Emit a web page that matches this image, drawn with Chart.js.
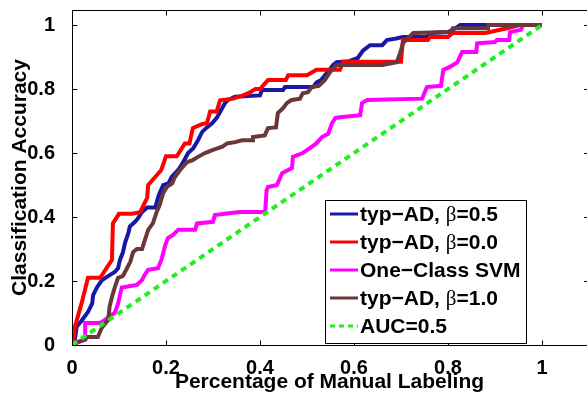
<!DOCTYPE html>
<html>
<head>
<meta charset="utf-8">
<script src="https://cdn.jsdelivr.net/npm/chart.js@4"></script>
<style>
  html, body { margin: 0; background: #fff; }
  #wrap { width: 587px; height: 393px; }
</style>
</head>
<body>
<div id="wrap"><canvas id="chart"></canvas></div>
<script>
const xTicks      = [0, 0.2, 0.4, 0.6, 0.8, 1];
const xTickLabels = ['0', '0.2', '0.4', '0.6', '0.8', '1'];
const yTicks      = [0, 0.2, 0.4, 0.6, 0.8, 1];
const yTickLabels = ['0', '0.2', '0.4', '0.6', '0.8', '1'];

const seriesLabels = ['typ\u2212AD, \u03b2=0.5', 'typ\u2212AD, \u03b2=0.0', 'One\u2212Class SVM', 'typ\u2212AD, \u03b2=1.0', 'AUC=0.5'];

// typ-AD, beta=0.5
const beta05X = [0, 0.006, 0.010, 0.020, 0.034, 0.043, 0.045, 0.053, 0.064, 0.081, 0.091, 0.098, 0.102, 0.108, 0.113, 0.120, 0.123, 0.134, 0.140, 0.149, 0.160, 0.177, 0.185, 0.194, 0.205, 0.212, 0.226, 0.236, 0.247, 0.258, 0.268, 0.277, 0.287, 0.298, 0.308, 0.315, 0.325, 0.332, 0.347, 0.400, 0.404, 0.449, 0.453, 0.513, 0.520, 0.530, 0.538, 0.548, 0.555, 0.563, 0.590, 0.608, 0.619, 0.634, 0.660, 0.670, 0.690, 0.704, 0.755, 0.762, 0.800, 0.810, 0.826, 1.0];
const beta05Y = [0, 0.016, 0.057, 0.075, 0.103, 0.130, 0.156, 0.180, 0.203, 0.219, 0.228, 0.240, 0.266, 0.288, 0.320, 0.350, 0.370, 0.385, 0.395, 0.416, 0.430, 0.430, 0.470, 0.500, 0.505, 0.525, 0.547, 0.570, 0.600, 0.615, 0.640, 0.666, 0.680, 0.693, 0.710, 0.728, 0.755, 0.766, 0.776, 0.780, 0.797, 0.797, 0.806, 0.806, 0.820, 0.828, 0.843, 0.860, 0.875, 0.884, 0.887, 0.897, 0.920, 0.937, 0.937, 0.953, 0.958, 0.963, 0.963, 0.975, 0.978, 0.985, 1.0, 1.0];

// typ-AD, beta=0.0
const beta00X = [0, 0.002, 0.006, 0.021, 0.034, 0.060, 0.085, 0.087, 0.100, 0.128, 0.145, 0.160, 0.162, 0.177, 0.190, 0.200, 0.223, 0.240, 0.250, 0.257, 0.276, 0.287, 0.294, 0.308, 0.315, 0.343, 0.364, 0.379, 0.390, 0.400, 0.417, 0.455, 0.460, 0.500, 0.520, 0.570, 0.577, 0.700, 0.704, 0.757, 0.762, 0.800, 0.810, 0.880, 0.925, 0.953, 1.0];
const beta00Y = [0, 0.006, 0.056, 0.134, 0.210, 0.210, 0.266, 0.380, 0.410, 0.410, 0.415, 0.460, 0.500, 0.525, 0.547, 0.590, 0.590, 0.630, 0.630, 0.678, 0.690, 0.693, 0.730, 0.730, 0.765, 0.770, 0.780, 0.790, 0.800, 0.800, 0.828, 0.828, 0.843, 0.843, 0.860, 0.860, 0.885, 0.885, 0.953, 0.953, 0.963, 0.963, 0.975, 0.975, 0.990, 1.0, 1.0];

// One-Class SVM
const svmX = [0, 0.002, 0.028, 0.028, 0.060, 0.070, 0.080, 0.091, 0.098, 0.106, 0.138, 0.149, 0.155, 0.162, 0.183, 0.191, 0.198, 0.204, 0.215, 0.226, 0.262, 0.266, 0.300, 0.304, 0.325, 0.357, 0.411, 0.414, 0.417, 0.436, 0.447, 0.468, 0.470, 0.491, 0.506, 0.520, 0.532, 0.545, 0.553, 0.560, 0.570, 0.613, 0.617, 0.628, 0.745, 0.755, 0.785, 0.790, 0.805, 0.820, 0.830, 0.860, 0.862, 0.900, 0.904, 0.930, 0.932, 0.955, 0.960, 1.0];
const svmY = [0, 0.006, 0.016, 0.069, 0.069, 0.078, 0.090, 0.100, 0.130, 0.180, 0.188, 0.203, 0.220, 0.235, 0.240, 0.270, 0.310, 0.334, 0.344, 0.360, 0.360, 0.380, 0.385, 0.406, 0.410, 0.416, 0.416, 0.484, 0.494, 0.500, 0.537, 0.553, 0.588, 0.600, 0.615, 0.630, 0.650, 0.660, 0.693, 0.709, 0.712, 0.718, 0.756, 0.766, 0.770, 0.806, 0.810, 0.860, 0.870, 0.884, 0.916, 0.916, 0.943, 0.947, 0.953, 0.953, 0.978, 0.985, 1.0, 1.0];

// typ-AD, beta=1.0
const beta10X = [0, 0.024, 0.034, 0.055, 0.063, 0.077, 0.080, 0.085, 0.091, 0.098, 0.108, 0.117, 0.124, 0.130, 0.138, 0.149, 0.155, 0.162, 0.172, 0.180, 0.187, 0.194, 0.202, 0.213, 0.219, 0.230, 0.245, 0.257, 0.268, 0.283, 0.300, 0.320, 0.330, 0.347, 0.362, 0.383, 0.385, 0.410, 0.417, 0.434, 0.438, 0.449, 0.457, 0.466, 0.485, 0.491, 0.502, 0.510, 0.525, 0.538, 0.549, 0.563, 0.660, 0.691, 0.698, 0.704, 0.715, 0.726, 0.806, 0.810, 0.883, 0.885, 1.0];
const beta10Y = [0, 0.016, 0.025, 0.025, 0.053, 0.078, 0.120, 0.150, 0.180, 0.210, 0.215, 0.240, 0.260, 0.290, 0.300, 0.300, 0.328, 0.360, 0.380, 0.415, 0.440, 0.475, 0.494, 0.505, 0.525, 0.547, 0.572, 0.578, 0.588, 0.600, 0.610, 0.620, 0.630, 0.634, 0.640, 0.640, 0.650, 0.655, 0.678, 0.680, 0.725, 0.740, 0.756, 0.765, 0.770, 0.787, 0.790, 0.806, 0.810, 0.828, 0.853, 0.875, 0.875, 0.884, 0.912, 0.943, 0.960, 0.975, 0.978, 0.990, 0.990, 1.0, 1.0];

// chance line
const aucX = [0, 1];
const aucY = [0, 1];

const X_LIMIT = 1.1;   // axis box ends here, just past the right edge of the picture
const X_SHOWN = 1.0957;
const Y_LIMIT = 1.047;

const FONT = "'Liberation Sans', Arial, sans-serif";

function toPoints(xs, ys) {
  return xs.map((x, i) => ({ x, y: ys[i] }));
}

function makeSet(label, xs, ys, color, order, dash) {
  return {
    label,
    data: toPoints(xs, ys),
    borderColor: color,
    backgroundColor: color,
    borderWidth: 4,
    borderDash: dash || [],
    borderJoinStyle: 'miter',
    borderCapStyle: 'butt',
    pointRadius: 0,
    tension: 0,
    fill: false,
    order,
  };
}

// no extra room for half-height tick labels, the box is placed by the layout padding
function noLabelPadding(s) {
  s.paddingTop = 0; s.paddingBottom = 0; s.paddingLeft = 0; s.paddingRight = 0;
}

// MATLAB-style box: inward ticks on all sides, plus the boxed legend
const boxPlugin = {
  id: 'box',
  afterDatasetsDraw(chart) {
    const { ctx, chartArea: a, scales: { x, y } } = chart;
    const right = x.getPixelForValue(X_LIMIT);
    const top = a.top + 0.5, bottom = a.bottom + 0.5, left = a.left + 0.5;
    ctx.save();
    ctx.strokeStyle = '#000';
    ctx.lineWidth = 1;
    ctx.beginPath();
    ctx.moveTo(left, top);    ctx.lineTo(right, top);
    ctx.moveTo(left, top);    ctx.lineTo(left, bottom);
    ctx.lineTo(right, bottom);
    xTicks.forEach(v => {
      const px = Math.round(x.getPixelForValue(v)) + 0.5;
      ctx.moveTo(px, bottom); ctx.lineTo(px, bottom - 5);
      ctx.moveTo(px, top);    ctx.lineTo(px, top + 5);
    });
    yTicks.forEach(v => {
      const py = Math.round(y.getPixelForValue(v)) + 0.5;
      ctx.moveTo(left, py);  ctx.lineTo(left + 5, py);
      ctx.moveTo(right, py); ctx.lineTo(right - 5, py);
    });
    ctx.stroke();

    // legend
    const L = 325.5, T = 200.5, R = 526.5, B = 343.5;
    ctx.fillStyle = '#fff';
    ctx.fillRect(L, T, R - L, B - T);
    ctx.strokeRect(L, T, R - L, B - T);

    const sets = chart.data.datasets;
    sets.forEach((ds, i) => {
      const rowY = 214 + i * 28;
      ctx.save();
      ctx.strokeStyle = ds.borderColor;
      ctx.lineWidth = 3;
      ctx.setLineDash(ds.borderDash.length ? [5, 4] : []);
      ctx.beginPath();
      ctx.moveTo(330, rowY); ctx.lineTo(358, rowY);
      ctx.stroke();
      ctx.restore();

      ctx.fillStyle = '#000';
      ctx.textBaseline = 'middle';
      ctx.textAlign = 'left';
      let tx = 360;
      const parts = ds.label.split('\u03b2');
      parts.forEach((p, k) => {
        if (k > 0) {
          ctx.font = "21px 'Liberation Serif', serif";
          ctx.fillText('\u03b2', tx, rowY + 1);
          tx += ctx.measureText('\u03b2').width;
        }
        ctx.font = 'bold 21px ' + FONT;
        ctx.fillText(p, tx, rowY + 1);
        tx += ctx.measureText(p).width;
      });
    });
    ctx.restore();
  }
};

new Chart(document.getElementById('chart'), {
  type: 'line',
  data: {
    datasets: [
      makeSet(seriesLabels[0], beta05X, beta05Y, '#1818a8', 5),
      makeSet(seriesLabels[1], beta00X, beta00Y, '#ff0000', 4),
      makeSet(seriesLabels[2], svmX, svmY, '#ff00ff', 3),
      makeSet(seriesLabels[3], beta10X, beta10Y, '#6a3838', 2),
      makeSet(seriesLabels[4], aucX, aucY, '#22ee22', 1, [6, 5]),
    ],
  },
  options: {
    responsive: true,
    maintainAspectRatio: false,
    animation: false,
    layout: { padding: { top: 10, left: 0, right: 0, bottom: 0 } },
    plugins: { legend: { display: false }, tooltip: { enabled: false } },
    scales: {
      x: {
        type: 'linear',
        min: 0,
        max: X_SHOWN,
        grid: { display: false },
        border: { display: false },
        afterBuildTicks: s => { s.ticks = xTicks.map(v => ({ value: v })); },
        afterFit: s => { s.height = 48; noLabelPadding(s); },
        ticks: {
          color: '#000',
          padding: 3,
          maxRotation: 0,
          font: { family: FONT, size: 20, weight: 'bold' },
          callback: v => xTickLabels[xTicks.indexOf(v)],
        },
        title: {
          display: true,
          text: 'Percentage of Manual Labeling',
          color: '#000',
          padding: { top: 0, bottom: 0 },
          font: { family: FONT, size: 21, weight: 'bold', lineHeight: 1 },
        },
      },
      y: {
        min: 0,
        max: Y_LIMIT,
        grid: { display: false },
        border: { display: false },
        afterBuildTicks: s => { s.ticks = yTicks.map(v => ({ value: v })); },
        afterFit: s => { s.width = 72; noLabelPadding(s); },
        ticks: {
          color: '#000',
          padding: 9,
          font: { family: FONT, size: 20, weight: 'bold' },
          callback: v => yTickLabels[yTicks.indexOf(v)],
        },
        title: {
          display: true,
          text: 'Classification Accuracy',
          color: '#000',
          padding: { top: 8, bottom: 0 },
          font: { family: FONT, size: 21, weight: 'bold', lineHeight: 1.2 },
        },
      },
    },
  },
  plugins: [boxPlugin],
});
</script>
</body>
</html>
